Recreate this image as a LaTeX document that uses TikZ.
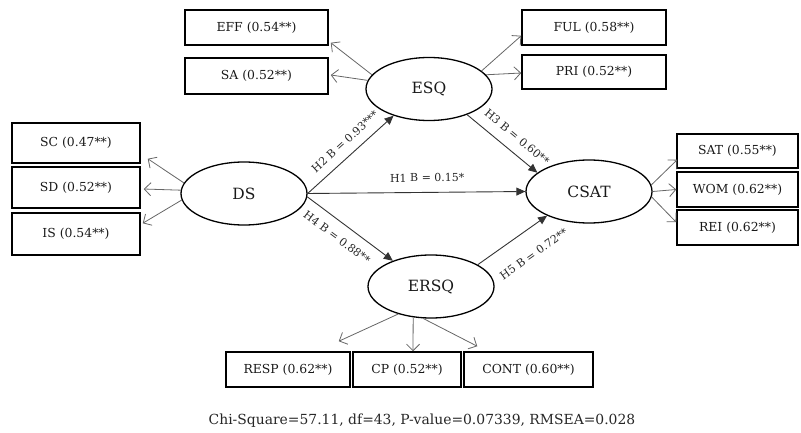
\documentclass[tikz,border=0pt]{standalone}
\usepackage{fontspec}
\setmainfont{DejaVu Serif}
\usetikzlibrary{shapes.geometric,arrows.meta}
\tikzset{
  indbox/.style={draw=black, line width=1.5pt, inner sep=0pt, text=black!90,
    font=\fontsize{12.4}{14}\selectfont},
  latent/.style={ellipse, draw=black, line width=1.3pt, minimum width=126pt,
    minimum height=63pt, inner sep=0pt, text=black!90, font=\fontsize{15.5}{18}\selectfont},
  loadarrow/.style={draw=black!60, line width=0.8pt,
    -{Straight Barb[length=6.5pt,width=13pt,line width=0.8pt]}},
  patharrow/.style={draw=black!80, line width=0.9pt,
    -{Triangle[length=9pt,width=8pt]}},
  plabel/.style={font=\fontsize{11}{13}\selectfont, sloped, text=black!85, inner sep=1pt}
}
\begin{document}
\begin{tikzpicture}[x=1pt,y=-1pt]
\useasboundingbox (0,0) rectangle (801,433);
% latent variables
\node[latent] (ds) at (244,193.5) {DS};
\node[latent] (esq) at (429,89) {ESQ};
\node[latent] (csat) at (589,191.5) {CSAT};
\node[latent] (ersq) at (431,286.5) {ERSQ};
% indicator boxes
\node[indbox, minimum width=143pt, minimum height=35pt] (eff) at (256.5,27.5) {EFF (0.54**)};
\node[indbox, minimum width=143pt, minimum height=36pt] (sa) at (256.5,76) {SA (0.52**)};
\node[indbox, minimum width=144pt, minimum height=35pt] (ful) at (594,27.5) {FUL (0.58**)};
\node[indbox, minimum width=144pt, minimum height=34pt] (pri) at (594,72) {PRI (0.52**)};
\node[indbox, minimum width=128pt, minimum height=40pt] (sc) at (76,143) {SC (0.47**)};
\node[indbox, minimum width=128pt, minimum height=41pt] (sd) at (76,187.5) {SD (0.52**)};
\node[indbox, minimum width=128pt, minimum height=42pt] (is) at (76,234) {IS (0.54**)};
\node[indbox, minimum width=121pt, minimum height=34pt] (sat) at (737.5,151) {SAT (0.55**)};
\node[indbox, minimum width=121pt, minimum height=35pt] (wom) at (737.5,189.5) {WOM (0.62**)};
\node[indbox, minimum width=121pt, minimum height=35pt] (rei) at (737.5,227.5) {REI (0.62**)};
\node[indbox, minimum width=124pt, minimum height=35pt] (resp) at (288,369.5) {RESP (0.62**)};
\node[indbox, minimum width=108pt, minimum height=35pt] (cp) at (407,369.5) {CP (0.52**)};
\node[indbox, minimum width=129pt, minimum height=35pt] (cont) at (528.5,369.5) {CONT (0.60**)};
% loadings
\draw[loadarrow] (esq.166) -- ([shift={(2,-3)}]eff.south east);
\draw[loadarrow] (esq.172) -- ([shift={(2,-1)}]sa.east);
\draw[loadarrow] (esq.19) -- ([shift={(0,-10)}]ful.south west);
\draw[loadarrow] (esq.14) -- ([shift={(0,1)}]pri.west);
\draw[loadarrow] (ds.170) -- ([shift={(7,-5)}]sc.south east);
\draw[loadarrow] (ds.177) -- ([shift={(3,1.5)}]sd.east);
\draw[loadarrow] (ds.186) -- ([shift={(2,11)}]is.north east);
\draw[loadarrow] (csat.6) -- ([shift={(1,-9)}]sat.south west);
\draw[loadarrow] (csat.0) -- (wom.west);
\draw[loadarrow] (csat.-5) -- ([shift={(0,13)}]rei.north west);
\draw[loadarrow] (ersq.220) -- ([shift={(-12,-10)}]resp.north east);
\draw[loadarrow] (ersq.240) -- ([shift={(6,0)}]cp.north);
\draw[loadarrow] (ersq.256) -- ([shift={(14,-5)}]cont.north west);
% structural paths
\draw[patharrow] (ds.east) -- (esq.217) node[plabel, pos=0.54, above=8pt] {H2 B = 0.93***};
\draw[patharrow] (ds.east) -- (csat.west) node[plabel, pos=0.55, above=9pt] {H1 B = 0.15*};
\draw[patharrow] (ds.-3) -- (ersq.146) node[plabel, pos=0.45, below=9pt] {H4 B = 0.88**};
\draw[patharrow] (esq.-34) -- (csat.160) node[plabel, pos=0.58, above=9pt] {H3 B = 0.60**};
\draw[patharrow] (ersq.25) -- (csat.210) node[plabel, pos=0.61, below=18pt] {H5 B = 0.72**};
% fit statistics
\node[font=\fontsize{13.9}{16}\selectfont, text=black!85] (fit) at (422,421) {Chi-Square=57.11, df=43, P-value=0.07339, RMSEA=0.028};
\end{tikzpicture}
\end{document}
